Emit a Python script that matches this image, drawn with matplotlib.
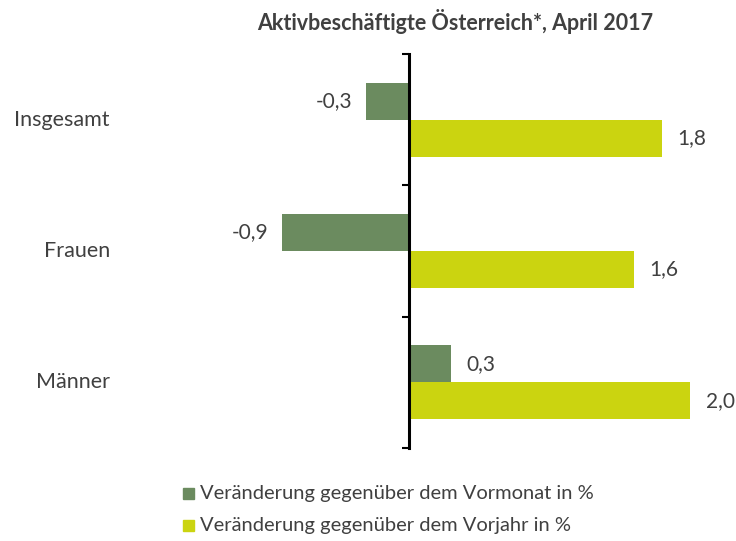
import matplotlib.pyplot as plt
import numpy as np
from matplotlib.transforms import blended_transform_factory

# data
categories = ["Insgesamt", "Frauen", "Männer"]
vormonat = [-0.3, -0.9, 0.3]
vorjahr = [1.8, 1.6, 2.0]
series_names = ["Veränderung gegenüber dem Vormonat in %",
                "Veränderung gegenüber dem Vorjahr in %"]
title = "Aktivbeschäftigte Österreich*, April 2017"

green = "#6b8b5f"
yellow = "#cbd410"
txt = "#404040"

plt.rcParams['font.family'] = ['Lato', 'DejaVu Sans']

fig = plt.figure(figsize=(7.36, 5.41), dpi=100)
W, H = 736, 541
# axes placed in pixels: left 151, right 720, top 54, bottom 448
ax = fig.add_axes([151 / W, 1 - 448 / H, (720 - 151) / W, (448 - 54) / H])

y = np.arange(len(categories))
h = 0.282
ax.barh(y - h / 2, vormonat, height=h, color=green)
ax.barh(y + h / 2, vorjahr, height=h, color=yellow)

ax.set_xlim(-1.83, 2.21)
ax.set_ylim(2.5, -0.5)

for s in ["top", "right", "bottom"]:
    ax.spines[s].set_visible(False)
ax.spines["left"].set_position(("data", 0))
ax.spines["left"].set_linewidth(2.2)
ax.set_xticks([])
ax.set_yticks([-0.5, 0.5, 1.5, 2.5])
ax.set_yticklabels([])
ax.tick_params(axis="y", length=5, width=1.5, direction="out")

# value labels
def lab(v):
    return f"{v:.1f}".replace(".", ",")

for yy, v in zip(y - h / 2, vormonat):
    ax.annotate(lab(v), (v, yy), xytext=(11 if v > 0 else -10, 0),
                textcoords="offset points", va="center",
                ha="left" if v > 0 else "right", fontsize=15, color=txt)
for yy, v in zip(y + h / 2, vorjahr):
    ax.annotate(lab(v), (v, yy), xytext=(11, 0), textcoords="offset points",
                va="center", ha="left", fontsize=15, color=txt)

# category labels
tr = blended_transform_factory(fig.transFigure, ax.transData)
for yy, c in zip(y, categories):
    ax.text(110 / W, yy, c, transform=tr, ha="right", va="center",
            fontsize=15.5, color=txt)

fig.text(455 / W, 1 - 21 / H, title, ha="center", va="center",
         fontsize=15.5, fontweight="bold", color=txt)

# legend drawn manually
for i, (name, col) in enumerate(zip(series_names, [green, yellow])):
    yp = 1 - (494 + i * 32) / H
    fig.patches.append(plt.Rectangle((183 / W, yp - 5 / H), 11 / W, 11 / H,
                                     transform=fig.transFigure, color=col))
    fig.text(200 / W, yp, name, ha="left", va="center", fontsize=14.5, color=txt)

fig.savefig("out.png", dpi=100)
